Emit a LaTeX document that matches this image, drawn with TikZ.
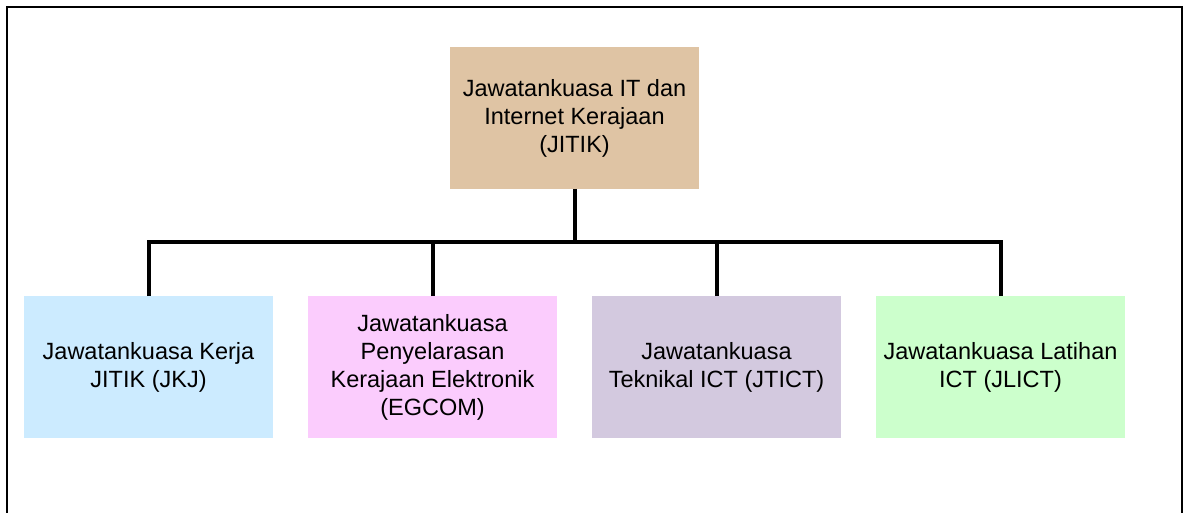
\documentclass[tikz,border=0pt]{standalone}
\usepackage{fontspec}
\setmainfont{Liberation Sans}
\usetikzlibrary{positioning}
\definecolor{tanfill}{HTML}{DFC4A4}
\definecolor{bluefill}{HTML}{CCEBFF}
\definecolor{pinkfill}{HTML}{FBCCFD}
\definecolor{lavfill}{HTML}{D3C9DF}
\definecolor{greenfill}{HTML}{CCFFCC}
\tikzset{
  unitbox/.style={minimum width=249pt,minimum height=142pt,inner sep=0pt,
    outer sep=0pt,align=center,font=\fontsize{23.5}{28}\selectfont},
  conn/.style={line width=4pt},
}
\begin{document}
\begin{tikzpicture}[x=1pt,y=1pt]
  \useasboundingbox (0,0) rectangle (1185,512);
  \draw[line width=2.5pt] (7,-2) -- (7,505) -- (1182,505) -- (1182,-2);
  \node[unitbox,fill=tanfill] (jitik) at (574.5,394)
    {Jawatankuasa IT dan\\Internet Kerajaan\\(JITIK)};
  \node[unitbox,fill=bluefill] (jkj) at (148.5,145)
    {Jawatankuasa Kerja\\JITIK (JKJ)};
  \node[unitbox,fill=pinkfill,right=35pt of jkj] (egcom)
    {Jawatankuasa\\Penyelarasan\\Kerajaan Elektronik\\(EGCOM)};
  \node[unitbox,fill=lavfill,right=35pt of egcom] (jtict)
    {Jawatankuasa\\Teknikal ICT (JTICT)};
  \node[unitbox,fill=greenfill,right=35pt of jtict] (jlict)
    {Jawatankuasa Latihan\\ICT (JLICT)};
  \path (jitik.south) -- coordinate[midway] (bus) (jitik.south |- jkj.north);
  \draw[conn] (jitik.south) -- (bus);
  \draw[conn] (jkj.north) |- (bus) -| (jlict.north);
  \foreach \n in {egcom,jtict}
    \draw[conn] (\n.north) -- (\n.north |- bus);
\end{tikzpicture}
\end{document}
